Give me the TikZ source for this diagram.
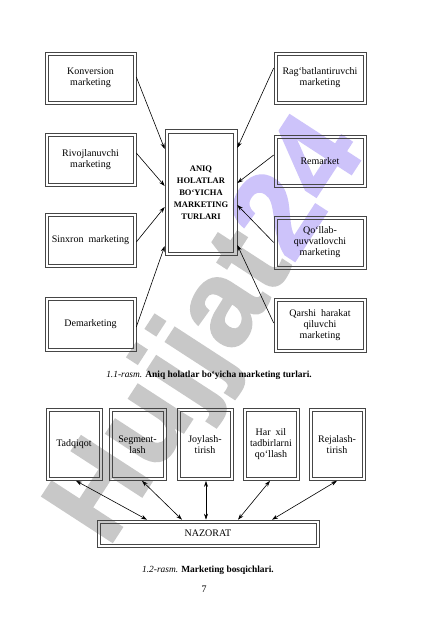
\documentclass[tikz,border=0pt]{standalone}
\usepackage{fontspec}
\setmainfont{Liberation Serif}
\newfontfamily\wmfont[FakeBold=1.5]{Liberation Sans Bold}
\usetikzlibrary{arrows.meta}
\definecolor{wmgray}{RGB}{200,200,200}
\definecolor{wmpurple}{RGB}{205,195,250}
\definecolor{boxline}{RGB}{70,70,70}
\begin{document}
\begin{tikzpicture}[x=1pt,y=-1pt,
  box/.style={draw=boxline, line width=0.6pt, rectangle, inner sep=0pt, align=center, font=\fontsize{10}{11}\selectfont},
  lbox/.style={box, minimum width=91pt, minimum height=53pt},
  bbox/.style={box, minimum width=56pt, minimum height=72pt},
  inner/.style={draw=boxline, line width=0.6pt},
  arr/.style={-{Stealth[length=6pt,width=4pt]}, line width=0.6pt},
  barr/.style={{Stealth[length=6pt,width=4pt]}-{Stealth[length=6pt,width=4pt]}, line width=0.6pt},
  captext/.style={font=\fontsize{9.4}{11}\selectfont, inner sep=0pt}]
\useasboundingbox[fill=white] (0,0) rectangle (425,638);
% watermark
\node[rotate=57, anchor=base west, inner sep=0pt, font=\wmfont\fontsize{122}{122}\selectfont, text=wmgray] (wm) at (108,549) {Hujjat{\color{wmpurple}24}};
% left column
\node[lbox, minimum height=52pt] (k) at (90.5,78) {Konversion\\marketing};
\node[lbox] (r) at (90.5,159.5) {Rivojlanuvchi\\marketing};
\node[lbox, minimum height=54pt] (s) at (90.5,240) {Sinxron\ \ marketing};
\node[lbox, minimum height=54pt] (d) at (90.5,324) {Demarketing};
% center
\node[box, minimum width=72pt, minimum height=126pt, font=\bfseries\fontsize{8.5}{12}\selectfont] (c) at (201,192.5) {ANIQ\\HOLATLAR\\BO‘YICHA\\MARKETING\\TURLARI};
% right column
\node[lbox, minimum width=92pt, minimum height=52pt] (rg) at (320,78) {Rag‘batlantiruvchi\\marketing};
\node[lbox, minimum width=92pt, minimum height=52pt] (rm) at (320,161) {Remarket};
\node[lbox, minimum width=92pt] (q) at (320,242.5) {Qo‘llab-\\quvvatlovchi\\marketing};
\node[lbox, minimum width=92pt, minimum height=54pt] (qh) at (320,325) {Qarshi\ \ harakat\\qiluvchi\\marketing};
% inner borders
\foreach \n in {k,r,s,d,rg,rm,q,qh}
  \draw[inner] ([xshift=3.5pt,yshift=-3.5pt]\n.north west) rectangle ([xshift=-3.5pt,yshift=3.5pt]\n.south east);
\draw[inner] ([xshift=4pt,yshift=-4pt]c.north west) rectangle ([xshift=-4pt,yshift=4pt]c.south east);
% arrows top diagram
\draw[arr] ([yshift=1pt]k.east) -- ([yshift=43.5pt]c.west);
\draw[arr] ([yshift=6.5pt]r.east) -- ([yshift=6.5pt]c.west);
\draw[arr] ([yshift=-2pt]s.east) -- ([yshift=-14.5pt]c.west);
\draw[arr] ([yshift=-3pt]d.east) -- ([yshift=-53.5pt]c.west);
\draw[arr] ([yshift=10pt]rg.west) -- ([yshift=44.5pt]c.east);
\draw[arr] ([yshift=6pt]rm.west) -- ([yshift=9.5pt]c.east);
\draw[arr] ([yshift=0pt]q.west) -- ([yshift=-12.5pt]c.east);
\draw[arr] ([yshift=2pt]qh.west) -- ([yshift=-52.5pt]c.east);
% caption 1
\node[captext] (cap1) at (209,375) {\textit{1.1-rasm.} \textbf{Aniq holatlar bo‘yicha marketing turlari.}};
% bottom diagram
\node[bbox] (t) at (74,444.5) {Tadqiqot};
\node[bbox, minimum width=57pt] (sg) at (137.5,444.5) {Segment-\\lash};
\node[bbox] (j) at (205,444.5) {Joylash-\\tirish};
\node[bbox] (h) at (271,444.5) {Har\ \ xil\\tadbirlarni\\qo‘llash};
\node[bbox] (rj) at (337,444.5) {Rejalash-\\tirish};
\node[box, minimum width=222pt, minimum height=27pt] (n) at (208,533.5) {NAZORAT};
\foreach \n in {t,sg,j,h,rj,n}
  \draw[inner] ([xshift=3.5pt,yshift=-3.5pt]\n.north west) rectangle ([xshift=-3.5pt,yshift=3.5pt]\n.south east);
\draw[barr] ([xshift=2pt]t.south) -- ([xshift=-61pt]n.north);
\draw[barr] ([xshift=4.5pt]sg.south) -- ([xshift=-26pt]n.north);
\draw[barr] ([xshift=1pt]j.south) -- ([xshift=-2pt]n.north);
\draw[barr] ([xshift=-1pt]h.south) -- ([xshift=30pt]n.north);
\draw[barr] ([xshift=0pt]rj.south) -- ([xshift=64pt]n.north);
% caption 2 and page number
\node[captext] (cap2) at (208,570) {\textit{1.2-rasm.} \textbf{Marketing bosqichlari.}};
\node[captext, font=\fontsize{10}{12}\selectfont] (pg) at (204,589) {7};
\end{tikzpicture}
\end{document}
